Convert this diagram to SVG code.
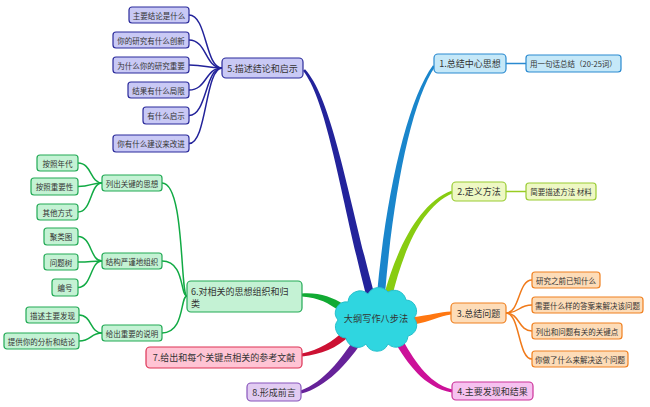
<svg xmlns="http://www.w3.org/2000/svg" width="650" height="407" viewBox="0 0 650 407">
<style>
text{font-family:"Noto Sans CJK SC","Noto Sans",sans-serif;fill:#333;dominant-baseline:central}
.m{font-size:9px;text-anchor:middle}
.l{font-size:7.5px;text-anchor:middle}
rect{stroke-width:1.2}
.c{fill:none;stroke-width:1.5}
.n5 rect{fill:#c9c9f5;stroke:#2b2b9b}
.n1 rect{fill:#c5e8f8;stroke:#2a8ad0}
.n2 rect{fill:#eef8c4;stroke:#99cc33}
.n3 rect{fill:#fddcb8;stroke:#f08020}
.n4 rect{fill:#f6c2f0;stroke:#cc3399}
.n6 rect{fill:#c4f2d4;stroke:#22aa55}
.n7 rect{fill:#ffc4d4;stroke:#dd3355}
.n8 rect{fill:#e2ccf2;stroke:#8855bb}
</style>
<g id="connectors">
<path fill="#23239b" d="M 303 70.8 C 327.5 101, 341.5 201, 366 295 L 374 293 C 348.5 199, 332.5 99, 305 69.2 Z"/>
<path fill="#1a86cc" d="M 435 66.7 C 412 100.5, 393.5 190, 385 294 L 377 294 C 386.5 190, 408 99.5, 433 65.3 Z"/>
<path fill="#88cc11" d="M 452.5 193.2 C 421 207, 403 252, 392 297 L 384 295 C 397 248, 419 203, 451.5 190.8 Z"/>
<path fill="#ff7711" d="M 412 317.5 C 430 315, 440 312, 451 311.5 L 451 314.5 C 440 316, 430 321.5, 414 324.5 Z"/>
<path fill="#cc1199" d="M 401.4 337.9 C 413 357.5, 426.5 382.5, 452.3 389.5 L 451.7 392.5 C 423.5 387.5, 407 362.5, 394.6 342.1 Z"/>
<path fill="#11aa33" d="M 302 293.5 C 320 292.5, 331.5 297, 344.2 304.7 L 339.8 311.3 C 328 303, 320 298, 302 296.5 Z"/>
<path fill="#cc1133" d="M 301.75 353.5 C 319 349.5, 333 342, 344.2 330.2 L 349.8 335.8 C 337 348, 321 354.5, 302.25 356.5 Z"/>
<path fill="#662299" d="M 300.6 390.6 C 324 382.5, 342 357.5, 353.7 339.8 L 360.3 344.2 C 348 362.5, 326 387.5, 301.4 393.4 Z"/>
<g class="c" stroke="#22229a">
<path d="M 222 68 C 205 68, 207 15, 189 15"/>
<path d="M 222 68 C 205 68, 207 40, 189 40"/>
<path d="M 222 68 C 205 68, 207 65, 189 65"/>
<path d="M 222 68 C 205 68, 207 90, 189 90"/>
<path d="M 222 68 C 205 68, 207 115.5, 189 115.5"/>
<path d="M 222 68 C 205 68, 207 143.5, 189 143.5"/>
</g>
<path class="c" stroke="#2a8ad0" d="M 506 63.5 L 526 63.5"/>
<path class="c" stroke="#99cc22" d="M 506 191.5 L 526 191.5"/>
<g class="c" stroke="#f07a1a">
<path d="M 506 313 C 520 313, 518 280, 532 280"/>
<path d="M 506 313 C 520 313, 518 305, 532 305"/>
<path d="M 506 313 C 520 313, 518 331, 532 331"/>
<path d="M 506 313 C 520 313, 518 359, 532 359"/>
</g>
<g class="c" stroke="#11aa44">
<path d="M 187 296 C 180 296, 185 183, 162 183"/>
<path d="M 187 296 C 180 296, 185 261, 162 261"/>
<path d="M 187 296 C 180 296, 185 333, 162 333"/>
<path d="M 102 183 C 90 183, 92 163, 78 163"/>
<path d="M 102 183 C 90 183, 92 186.5, 78 186.5"/>
<path d="M 102 183 C 90 183, 92 212, 78 212"/>
<path d="M 102 261 C 90 261, 92 236.5, 78 236.5"/>
<path d="M 102 261 C 90 261, 92 262, 78 262"/>
<path d="M 102 261 C 90 261, 92 287.5, 78 287.5"/>
<path d="M 102 333 C 90 333, 92 315, 79 315"/>
<path d="M 102 333 C 90 333, 92 341, 79 341"/>
</g>
</g>
<g id="center">
<path fill="#2fd6e0" stroke="#27c0cc" d="M 348 302 a 12 12 0 0 1 20 -8 a 12 12 0 0 1 20 -2 a 12 12 0 0 1 18 8 a 11 11 0 0 1 8 18 a 11 11 0 0 1 -6 18 a 12 12 0 0 1 -20 8 a 12 12 0 0 1 -22 0 a 12 12 0 0 1 -20 -6 a 11 11 0 0 1 -8 -18 a 11 11 0 0 1 10 -18 z"/>
<text class="m" x="376" y="318" style="font-size:9.2px">大纲写作八步法</text>
</g>
<g id="node5" class="n5">
<rect x="222" y="58" width="81" height="20" rx="4"/>
<text class="m" x="262.5" y="68">5.描述结论和启示</text>
<rect x="129" y="7" width="60" height="16" rx="3"/><text class="l" x="159" y="15">主要结论是什么</text>
<rect x="113" y="32" width="76" height="16" rx="3"/><text class="l" x="151" y="40">你的研究有什么创新</text>
<rect x="113" y="57" width="76" height="16" rx="3"/><text class="l" x="151" y="65">为什么你的研究重要</text>
<rect x="128" y="82" width="61" height="16" rx="3"/><text class="l" x="158.5" y="90">结果有什么局限</text>
<rect x="143" y="107" width="46" height="17" rx="3"/><text class="l" x="166" y="115.5">有什么启示</text>
<rect x="113" y="135" width="76" height="17" rx="3"/><text class="l" x="151" y="143.5">你有什么建议来改进</text>
</g>
<g id="node1" class="n1">
<rect x="434" y="54" width="72" height="19" rx="4"/>
<text class="m" x="470" y="63.5">1.总结中心思想</text>
<rect x="526" y="55" width="95" height="17" rx="3"/><text class="l" x="573.5" y="63.5">用一句话总结（20-25词）</text>
</g>
<g id="node2" class="n2">
<rect x="452" y="182" width="54" height="19" rx="4"/>
<text class="m" x="479" y="191.5">2.定义方法</text>
<rect x="526" y="183" width="70" height="17" rx="3"/><text class="l" x="561" y="191.5">简要描述方法 材料</text>
</g>
<g id="node3" class="n3">
<rect x="451" y="303" width="55" height="20" rx="4"/>
<text class="m" x="478.5" y="313">3.总结问题</text>
<rect x="532" y="272" width="68" height="16" rx="3"/><text class="l" x="566" y="280">研究之前已知什么</text>
<rect x="532" y="297" width="111" height="16" rx="3"/><text class="l" x="587.5" y="305">需要什么样的答案来解决该问题</text>
<rect x="532" y="323" width="90" height="16" rx="3"/><text class="l" x="577" y="331">列出和问题有关的关键点</text>
<rect x="532" y="351" width="96" height="16" rx="3"/><text class="l" x="580" y="359">你做了什么来解决这个问题</text>
</g>
<g id="node4" class="n4">
<rect x="452" y="382" width="81" height="18" rx="4"/>
<text class="m" x="492.5" y="391">4.主要发现和结果</text>
</g>
<g id="node6" class="n6">
<rect x="187" y="281" width="115" height="31" rx="4"/>
<text x="191" y="291" style="font-size:9px">6.对相关的思想组织和归</text>
<text x="191" y="303" style="font-size:9px">类</text>
<rect x="102" y="175" width="60" height="16" rx="3"/><text class="l" x="132" y="183">列出关键的思想</text>
<rect x="102" y="253" width="60" height="16" rx="3"/><text class="l" x="132" y="261">结构严谨地组织</text>
<rect x="102" y="325" width="60" height="16" rx="3"/><text class="l" x="132" y="333">给出重要的说明</text>
<rect x="37" y="155" width="41" height="16" rx="3"/><text class="l" x="57.5" y="163">按照年代</text>
<rect x="31" y="178" width="47" height="17" rx="3"/><text class="l" x="54.5" y="186.5">按照重要性</text>
<rect x="37" y="204" width="41" height="16" rx="3"/><text class="l" x="57.5" y="212">其他方式</text>
<rect x="44" y="228" width="34" height="17" rx="3"/><text class="l" x="61" y="236.5">聚类图</text>
<rect x="44" y="254" width="34" height="16" rx="3"/><text class="l" x="61" y="262">问题树</text>
<rect x="52" y="279" width="26" height="17" rx="3"/><text class="l" x="65" y="287.5">编号</text>
<rect x="26" y="307" width="53" height="16" rx="3"/><text class="l" x="52.5" y="315">描述主要发现</text>
<rect x="4" y="333" width="75" height="16" rx="3"/><text class="l" x="41.5" y="341">提供你的分析和结论</text>
</g>
<g id="node7" class="n7">
<rect x="146" y="347" width="156" height="21" rx="4"/>
<text class="m" x="224" y="357.5">7.给出和每个关键点相关的参考文献</text>
</g>
<g id="node8" class="n8">
<rect x="247" y="383" width="54" height="18" rx="4"/>
<text class="m" x="274" y="392">8.形成前言</text>
</g>
</svg>
